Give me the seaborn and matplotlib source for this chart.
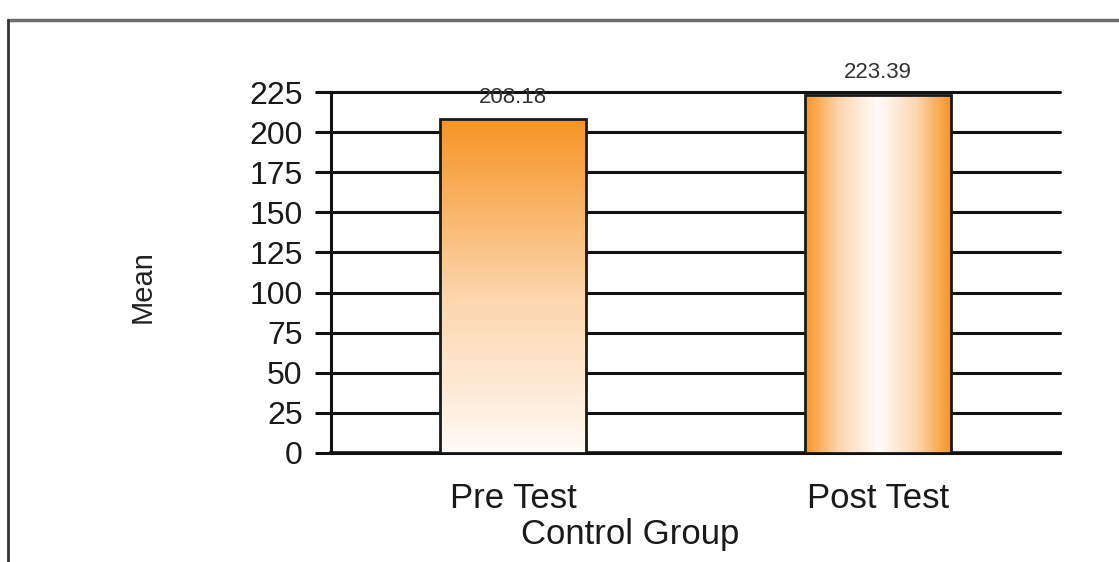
import numpy as np
import pandas as pd
import matplotlib
matplotlib.use("Agg")
import matplotlib.pyplot as plt
import seaborn as sns
from matplotlib.colors import LinearSegmentedColormap
from matplotlib.lines import Line2D

groups = ["Pre Test", "Post Test"]
means = [208.18, 223.39]
value_labels = ["208.18", "223.39"]
yticks = [0, 25, 50, 75, 100, 125, 150, 175, 200, 225]

df = pd.DataFrame({"Group": groups, "Mean": means})

sns.set_style("white")
plt.rcParams["font.family"] = ["Liberation Sans", "DejaVu Sans"]

fig = plt.figure(figsize=(11.19, 5.62), dpi=100)
ax = fig.add_axes([331 / 1119, 1 - 453 / 562, 729 / 1119, 361 / 562])

sns.barplot(data=df, x="Group", y="Mean", ax=ax, width=0.4,
            color="white", edgecolor="#1a1a1a", linewidth=2, zorder=3)

orange = (0.97, 0.58, 0.14)
cmap = LinearSegmentedColormap.from_list("og", [(1.0, 0.985, 0.97), (0.99, 0.84, 0.68), orange])

for i, patch in enumerate(ax.patches):
    x0, y0 = patch.get_x(), patch.get_y()
    w, h = patch.get_width(), patch.get_height()
    if i == 0:
        grad = np.linspace(0, 1, 256).reshape(-1, 1) ** 0.9
    else:
        t = np.linspace(-1, 1, 256)
        grad = (np.abs(t) ** 1.1).reshape(1, -1)
    im = ax.imshow(grad, cmap=cmap, vmin=0, vmax=1, aspect="auto",
                   extent=(x0, x0 + w, y0, y0 + h), origin="lower", zorder=3.5)
    im.set_clip_path(patch)
    patch.set_facecolor("none")
    patch.set_zorder(4)
    ax.annotate(value_labels[i], (x0 + w / 2, y0 + h), xytext=(0, 8),
                textcoords="offset points", ha="center", va="bottom",
                fontsize=16, color="#333333")

ax.set_xlim(-0.5, 1.5)
ax.set_ylim(0, 225)
ax.set_yticks(yticks)
ax.set_yticklabels([str(v) for v in yticks], fontsize=23, color="#1a1a1a")
ax.yaxis.grid(True, color="#111111", linewidth=2.2, zorder=0)
for gl in ax.get_ygridlines():
    gl.set_clip_on(False)
ax.set_axisbelow(True)

ax.set_xticks([0, 1])
ax.set_xticklabels(groups, fontsize=25, color="#1a1a1a")
ax.set_xticks([-0.5, 0.5, 1.5], minor=True)
ax.tick_params(axis="x", which="major", length=0, pad=21)
ax.tick_params(axis="x", which="minor", length=9, width=2.2, color="#111111", direction="out")
ax.tick_params(axis="y", length=11.5, width=2.2, color="#111111", direction="out", pad=9, left=True)

for side in ["top", "right"]:
    ax.spines[side].set_visible(False)
ax.spines["left"].set_color("#111111")
ax.spines["left"].set_linewidth(2.2)
ax.spines["bottom"].set_color("#111111")
ax.spines["bottom"].set_linewidth(2.6)

ax.set_ylabel("")
ax.set_xlabel("Control Group", fontsize=25, color="#1a1a1a")
ax.xaxis.set_label_coords(0.41, -0.18)

fig.text(143 / 1119, 1 - 287 / 562, "Mean", rotation=90, ha="center", va="center",
         fontsize=21, color="#222222")

fig.add_artist(Line2D([8 / 1119, 1.0], [1 - 20 / 562, 1 - 20 / 562], color="#6e6e6e", linewidth=2.5))
fig.add_artist(Line2D([8 / 1119, 8 / 1119], [0, 1 - 20 / 562], color="#333333", linewidth=2.0))

fig.savefig("out.png", dpi=100, facecolor="white")
